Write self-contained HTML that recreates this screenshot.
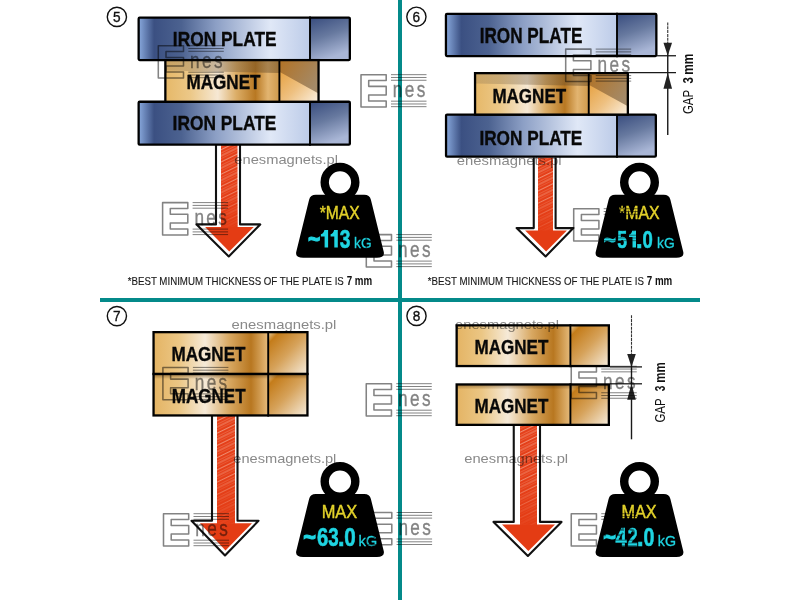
<!DOCTYPE html>
<html><head><meta charset="utf-8"><style>
html,body{margin:0;padding:0;background:#fff;width:800px;height:600px;overflow:hidden}
svg{display:block}
</style></head><body>
<svg width="800" height="600" viewBox="0 0 800 600">
<defs>
<linearGradient id="ironMain" x1="0" y1="0" x2="1" y2="0">
  <stop offset="0" stop-color="#88a8dc"/>
  <stop offset="0.09" stop-color="#3b5082"/>
  <stop offset="0.25" stop-color="#4c6290"/>
  <stop offset="0.45" stop-color="#8c9fc5"/>
  <stop offset="0.77" stop-color="#e0e8f7"/>
  <stop offset="1" stop-color="#bccbe8"/>
</linearGradient>
<linearGradient id="ironSq" x1="0" y1="0" x2="0.35" y2="1">
  <stop offset="0" stop-color="#384c7e"/>
  <stop offset="0.5" stop-color="#67799f"/>
  <stop offset="1" stop-color="#a9b6d6"/>
</linearGradient>
<linearGradient id="magMain" x1="0" y1="0" x2="1" y2="0">
  <stop offset="0" stop-color="#e4b464"/>
  <stop offset="0.22" stop-color="#ebc684"/>
  <stop offset="0.45" stop-color="#f6ead8"/>
  <stop offset="0.66" stop-color="#d8a862"/>
  <stop offset="0.85" stop-color="#b87720"/>
  <stop offset="1" stop-color="#e6bb7c"/>
</linearGradient>
<linearGradient id="magMain2" x1="0" y1="0" x2="1" y2="0">
  <stop offset="0" stop-color="#e6b868"/>
  <stop offset="0.22" stop-color="#ecc888"/>
  <stop offset="0.46" stop-color="#f6e8d4"/>
  <stop offset="0.62" stop-color="#dcae68"/>
  <stop offset="0.79" stop-color="#b87822"/>
  <stop offset="0.9" stop-color="#e2b470"/>
  <stop offset="1" stop-color="#cf9a4c"/>
</linearGradient>
<linearGradient id="bandGrad" x1="0" y1="0" x2="1" y2="0">
  <stop offset="0" stop-color="#7a6850" stop-opacity="0.25"/>
  <stop offset="1" stop-color="#5a4020" stop-opacity="0.45"/>
</linearGradient>
<linearGradient id="magSq" x1="0" y1="0" x2="1" y2="1">
  <stop offset="0" stop-color="#ecd0a0"/>
  <stop offset="0.14" stop-color="#c47c1a"/>
  <stop offset="0.5" stop-color="#d6a25a"/>
  <stop offset="1" stop-color="#f6ecdc"/>
</linearGradient>
<linearGradient id="magSqLow" x1="0" y1="0" x2="1" y2="1">
  <stop offset="0" stop-color="#e4982e"/>
  <stop offset="0.55" stop-color="#eec080"/>
  <stop offset="1" stop-color="#fbf0e0"/>
</linearGradient>
<linearGradient id="magSqHigh" x1="0" y1="0" x2="1" y2="0.6">
  <stop offset="0" stop-color="#b27224"/>
  <stop offset="1" stop-color="#a48a68"/>
</linearGradient>
<linearGradient id="shadowDown" x1="0" y1="0" x2="0" y2="1">
  <stop offset="0" stop-color="#5a3a10" stop-opacity="0.55"/>
  <stop offset="1" stop-color="#5a3a10" stop-opacity="0"/>
</linearGradient>
<pattern id="hatch" width="10" height="11" patternUnits="userSpaceOnUse" patternTransform="rotate(-26)">
  <rect width="10" height="11" fill="#e5401a"/>
  <rect y="0.3" width="10" height="0.7" fill="#f9c8b4" opacity="0.85"/>
  <rect y="3.2" width="10" height="0.5" fill="#f6b09a" opacity="0.6"/>
  <rect y="5.6" width="10" height="0.8" fill="#f9c4ae" opacity="0.75"/>
  <rect y="8.4" width="10" height="0.5" fill="#f4a890" opacity="0.5"/>
</pattern>
<linearGradient id="redFade" x1="0" y1="0" x2="0" y2="1">
  <stop offset="0" stop-color="#e43c14" stop-opacity="0"/>
  <stop offset="0.55" stop-color="#e43c14" stop-opacity="0.15"/>
  <stop offset="1" stop-color="#e43c14" stop-opacity="0.85"/>
</linearGradient>
</defs>
<rect width="800" height="600" fill="#fff"/>
<circle cx="116.9" cy="16.9" r="9.6" fill="none" stroke="#111" stroke-width="1.4"/><text transform="translate(116.9,22.2) scale(0.92,1)" font-family='"Liberation Sans", sans-serif' font-size="14.8" font-weight="normal" fill="#111" text-anchor="middle" stroke="#111" stroke-width="0.35">5</text>
<path d="M216,145 V224.4 H196.6 L228.75,256.5 L260.25,224.4 H240 V145" fill="#fff" stroke="#111" stroke-width="2.1" stroke-linejoin="round"/>
<rect x="221" y="145" width="16.5" height="82.4" fill="url(#hatch)"/>
<rect x="221" y="145" width="16.5" height="82.4" fill="url(#redFade)"/>
<path d="M221,226.9 H205.1 L229.25,251.5 L253.75,226.9 H237.5 V226.9 Z" fill="#e43c14"/>
<rect x="138.65" y="17.65" width="171.35" height="42.45" fill="url(#ironMain)"/>
<rect x="310" y="17.65" width="39.85" height="42.45" fill="url(#ironSq)"/>
<rect x="138.65" y="17.65" width="211.2" height="42.45" fill="none" stroke="#000" stroke-width="2.3" rx="1"/>
<line x1="310" y1="16.5" x2="310" y2="61.25" stroke="#000" stroke-width="1.9"/>
<text transform="translate(172.87,46) scale(0.8521,1)" font-family='"Liberation Sans", sans-serif' font-size="20.36" font-weight="bold" fill="#080808" text-anchor="start" stroke="#080808" stroke-width="0.35">IRON PLATE</text>
<rect x="138.65" y="101.75" width="171.35" height="42.90000000000002" fill="url(#ironMain)"/>
<rect x="310" y="101.75" width="39.85" height="42.90000000000002" fill="url(#ironSq)"/>
<rect x="138.65" y="101.75" width="211.2" height="42.90000000000002" fill="none" stroke="#000" stroke-width="2.3" rx="1"/>
<line x1="310" y1="100.6" x2="310" y2="145.8" stroke="#000" stroke-width="1.9"/>
<text transform="translate(172.57,130.25) scale(0.8521,1)" font-family='"Liberation Sans", sans-serif' font-size="20.36" font-weight="bold" fill="#080808" text-anchor="start" stroke="#080808" stroke-width="0.35">IRON PLATE</text>
<rect x="165.35" y="60.1" width="114.04999999999998" height="41.650000000000006" fill="url(#magMain2)"/>
<polygon points="165.35,60.1 279.4,60.1 279.4,72.95 165.35,70.45" fill="url(#bandGrad)"/>
<rect x="279.4" y="60.1" width="39.15000000000001" height="41.650000000000006" fill="url(#magSqLow)"/>
<polygon points="279.4,60.1 318.55,60.1 318.55,93.4 279.4,71.75" fill="url(#magSqHigh)"/>
<rect x="165.35" y="60.1" width="153.2" height="41.650000000000006" fill="none" stroke="#000" stroke-width="2.3"/>
<line x1="279.4" y1="58.95" x2="279.4" y2="102.9" stroke="#000" stroke-width="1.9"/>
<text transform="translate(186.49,89.4) scale(0.8494,1)" font-family='"Liberation Sans", sans-serif' font-size="20.14" font-weight="bold" fill="#080808" text-anchor="start" stroke="#080808" stroke-width="0.35">MAGNET</text>
<path d="M315.8,194.75 H364.2 Q369.7,194.75 370.9,199.75 L383.59999999999997,251.25 Q385.4,257.75 376.9,257.75 H303.1 Q294.6,257.75 296.40000000000003,251.25 L309.1,199.75 Q310.3,194.75 315.8,194.75 Z" fill="#000"/>
<circle cx="340" cy="182.35" r="15.3" fill="none" stroke="#000" stroke-width="8.4"/>
<text transform="translate(319.69,219.4) scale(0.822,1)" font-family='"Liberation Sans", sans-serif' font-size="19.06" font-weight="normal" fill="#e2d12a" text-anchor="start" stroke="#e2d12a" stroke-width="0.45">*MAX</text>
<text transform="translate(308.06,247.6) scale(0.8348,1)" font-family='"Liberation Sans", sans-serif' font-size="25.14" font-weight="bold" fill="#1fd5e2" text-anchor="start" stroke="#1fd5e2" stroke-width="1.1">~</text>
<path d="M328.1,230 V247.6 H324.6 V236.6 H320.9 V234.3 Q323.8,233.6 324.40000000000003,230 Z" fill="#1fd5e2"/>
<path d="M337.8,230 V247.6 H334.3 V236.6 H330.6 V234.3 Q333.5,233.6 334.1,230 Z" fill="#1fd5e2"/>
<text transform="translate(339.72,247.6) scale(0.7633,1)" font-family='"Liberation Sans", sans-serif' font-size="25.14" font-weight="bold" fill="#1fd5e2" text-anchor="start" stroke="#1fd5e2" stroke-width="0.6">3</text>
<text transform="translate(354.11,247.5) scale(0.8819,1)" font-family='"Liberation Sans", sans-serif' font-size="15.52" font-weight="normal" fill="#1fd5e2" text-anchor="start" stroke="#1fd5e2" stroke-width="0.3">kG</text>
<text transform="translate(127.71,284.6) scale(0.8296,1)" font-family='"Liberation Sans", sans-serif' font-size="11.71" font-weight="normal" fill="#1a1a1a" text-anchor="start" stroke="#1a1a1a" stroke-width="0.15">*BEST MINIMUM THICKNESS OF THE PLATE IS</text>
<text transform="translate(346.66,284.6) scale(0.823,1)" font-family='"Liberation Sans", sans-serif' font-size="11.88" font-weight="bold" fill="#111" text-anchor="start" >7 mm</text>
<circle cx="416.4" cy="16.7" r="9.6" fill="none" stroke="#111" stroke-width="1.4"/><text transform="translate(416.4,22.0) scale(0.92,1)" font-family='"Liberation Sans", sans-serif' font-size="14.8" font-weight="normal" fill="#111" text-anchor="middle" stroke="#111" stroke-width="0.35">6</text>
<path d="M533.75,157.5 V228.1 H516.6 L545.6,256.5 L573.4,228.1 H555.6 V157.5" fill="#fff" stroke="#111" stroke-width="2.1" stroke-linejoin="round"/>
<rect x="538" y="157.5" width="15" height="73.6" fill="url(#hatch)"/>
<rect x="538" y="157.5" width="15" height="73.6" fill="url(#redFade)"/>
<path d="M538,230.6 H525.1 L546.1,251.5 L566.9,230.6 H553 V230.6 Z" fill="#e43c14"/>
<rect x="445.95" y="13.950000000000001" width="171.04999999999998" height="42.10000000000001" fill="url(#ironMain)"/>
<rect x="617" y="13.950000000000001" width="39.35" height="42.10000000000001" fill="url(#ironSq)"/>
<rect x="445.95" y="13.950000000000001" width="210.39999999999998" height="42.10000000000001" fill="none" stroke="#000" stroke-width="2.3" rx="1"/>
<line x1="617" y1="12.8" x2="617" y2="57.2" stroke="#000" stroke-width="1.9"/>
<text transform="translate(479.68,42.5) scale(0.8012,1)" font-family='"Liberation Sans", sans-serif' font-size="21.43" font-weight="bold" fill="#080808" text-anchor="start" stroke="#080808" stroke-width="0.35">IRON PLATE</text>
<rect x="446.04999999999995" y="114.60000000000001" width="170.95000000000002" height="42.05000000000001" fill="url(#ironMain)"/>
<rect x="617" y="114.60000000000001" width="38.85" height="42.05000000000001" fill="url(#ironSq)"/>
<rect x="446.04999999999995" y="114.60000000000001" width="209.8" height="42.05000000000001" fill="none" stroke="#000" stroke-width="2.3" rx="1"/>
<line x1="617" y1="113.45" x2="617" y2="157.8" stroke="#000" stroke-width="1.9"/>
<text transform="translate(479.38,145.25) scale(0.8459,1)" font-family='"Liberation Sans", sans-serif' font-size="20.36" font-weight="bold" fill="#080808" text-anchor="start" stroke="#080808" stroke-width="0.35">IRON PLATE</text>
<rect x="475.04999999999995" y="73.15" width="113.70000000000002" height="41.45" fill="url(#magMain2)"/>
<polygon points="475.04999999999995,73.15 588.75,73.15 588.75,86.0 475.04999999999995,83.5" fill="url(#bandGrad)"/>
<rect x="588.75" y="73.15" width="39.1" height="41.45" fill="url(#magSqLow)"/>
<polygon points="588.75,73.15 627.85,73.15 627.85,106.25 588.75,84.8" fill="url(#magSqHigh)"/>
<rect x="475.04999999999995" y="73.15" width="152.8" height="41.45" fill="none" stroke="#000" stroke-width="2.3"/>
<line x1="588.75" y1="72.0" x2="588.75" y2="115.75" stroke="#000" stroke-width="1.9"/>
<text transform="translate(492.39,102.5) scale(0.8459,1)" font-family='"Liberation Sans", sans-serif' font-size="20.14" font-weight="bold" fill="#080808" text-anchor="start" stroke="#080808" stroke-width="0.35">MAGNET</text>
<line x1="667.75" y1="22.5" x2="667.75" y2="43.75" stroke="#333" stroke-width="1.1" stroke-dasharray="3 0.8"/>
<line x1="667.75" y1="43.75" x2="667.75" y2="135" stroke="#1a1a1a" stroke-width="1.4"/>
<line x1="657" y1="55.75" x2="676" y2="55.75" stroke="#1a1a1a" stroke-width="1.3"/>
<line x1="628" y1="72.7" x2="676" y2="72.7" stroke="#1a1a1a" stroke-width="1.3"/>
<path d="M663.45,42.75 L672.05,42.75 L667.75,55.75 Z" fill="#222"/>
<path d="M663.45,88.7 L672.05,88.7 L667.75,72.7 Z" fill="#222"/>
<g transform="translate(692.6,0) rotate(-90)">
<text transform="translate(-114.07,0) scale(0.7735,1)" font-family='"Liberation Sans", sans-serif' font-size="14.86" font-weight="normal" fill="#111" text-anchor="start" >GAP</text>
<text transform="translate(-83.58,0) scale(0.7615,1)" font-family='"Liberation Sans", sans-serif' font-size="14.86" font-weight="bold" fill="#111" text-anchor="start" >3</text>
<text transform="translate(-74.78,0) scale(0.8373,1)" font-family='"Liberation Sans", sans-serif' font-size="14.26" font-weight="bold" fill="#111" text-anchor="start" >mm</text>
</g>
<path d="M615.3,194.75 H663.7 Q669.2,194.75 670.4000000000001,199.75 L683.1,251.25 Q684.9,257.75 676.4,257.75 H602.6 Q594.1,257.75 595.9,251.25 L608.5999999999999,199.75 Q609.8,194.75 615.3,194.75 Z" fill="#000"/>
<circle cx="639.5" cy="182.35" r="15.3" fill="none" stroke="#000" stroke-width="8.4"/>
<text transform="translate(619.08,219.4) scale(0.8345,1)" font-family='"Liberation Sans", sans-serif' font-size="19.06" font-weight="normal" fill="#e2d12a" text-anchor="start" stroke="#e2d12a" stroke-width="0.45">*MAX</text>
<text transform="translate(603.67,247.6) scale(0.8511,1)" font-family='"Liberation Sans", sans-serif' font-size="24.43" font-weight="bold" fill="#1fd5e2" text-anchor="start" stroke="#1fd5e2" stroke-width="1.1">~</text>
<text transform="translate(617.17,247.6) scale(0.7205,1)" font-family='"Liberation Sans", sans-serif' font-size="24.43" font-weight="bold" fill="#1fd5e2" text-anchor="start" stroke="#1fd5e2" stroke-width="0.6">5</text>
<path d="M636,230.5 V247.6 H632.5 V237.1 H629 V234.8 Q631.7,234.1 632.3,230.5 Z" fill="#1fd5e2"/>
<text transform="translate(636.05,247.6) scale(0.9649,1)" font-family='"Liberation Sans", sans-serif' font-size="24.43" font-weight="bold" fill="#1fd5e2" text-anchor="start" stroke="#1fd5e2" stroke-width="0.6">.</text>
<text transform="translate(642.46,247.6) scale(0.7584,1)" font-family='"Liberation Sans", sans-serif' font-size="24.43" font-weight="bold" fill="#1fd5e2" text-anchor="start" stroke="#1fd5e2" stroke-width="0.6">0</text>
<text transform="translate(657.1,247.5) scale(0.8904,1)" font-family='"Liberation Sans", sans-serif' font-size="15.52" font-weight="normal" fill="#1fd5e2" text-anchor="start" stroke="#1fd5e2" stroke-width="0.3">kG</text>
<text transform="translate(427.81,284.6) scale(0.8296,1)" font-family='"Liberation Sans", sans-serif' font-size="11.71" font-weight="normal" fill="#1a1a1a" text-anchor="start" stroke="#1a1a1a" stroke-width="0.15">*BEST MINIMUM THICKNESS OF THE PLATE IS</text>
<text transform="translate(646.76,284.6) scale(0.823,1)" font-family='"Liberation Sans", sans-serif' font-size="11.88" font-weight="bold" fill="#111" text-anchor="start" >7 mm</text>
<circle cx="116.9" cy="316.1" r="9.6" fill="none" stroke="#111" stroke-width="1.4"/><text transform="translate(116.9,321.40000000000003) scale(0.92,1)" font-family='"Liberation Sans", sans-serif' font-size="14.8" font-weight="normal" fill="#111" text-anchor="middle" stroke="#111" stroke-width="0.35">7</text>
<path d="M212,416 V520.8 H191.5 L225,555.5 L258.5,520.8 H237.5 V416" fill="#fff" stroke="#111" stroke-width="2.1" stroke-linejoin="round"/>
<rect x="217" y="416" width="18" height="107.79999999999995" fill="url(#hatch)"/>
<rect x="217" y="416" width="18" height="107.79999999999995" fill="url(#redFade)"/>
<path d="M217,523.3 H200.0 L225.5,550.5 L252.0,523.3 H235 V523.3 Z" fill="#e43c14"/>
<rect x="153.55" y="332.15" width="114.64999999999998" height="41.84999999999998" fill="url(#magMain)"/>
<rect x="268.2" y="332.15" width="39.250000000000036" height="41.84999999999998" fill="url(#magSq)"/>
<rect x="153.55" y="332.15" width="153.9" height="41.84999999999998" fill="none" stroke="#000" stroke-width="2.3"/>
<line x1="268.2" y1="331" x2="268.2" y2="375.15" stroke="#000" stroke-width="1.9"/>
<text transform="translate(171.54,361.4) scale(0.8488,1)" font-family='"Liberation Sans", sans-serif' font-size="20.14" font-weight="bold" fill="#080808" text-anchor="start" stroke="#080808" stroke-width="0.35">MAGNET</text>
<rect x="153.55" y="374.0" width="114.64999999999998" height="41.45" fill="url(#magMain)"/>
<rect x="268.2" y="374.0" width="39.250000000000036" height="41.45" fill="url(#magSq)"/>
<rect x="153.55" y="374.0" width="153.9" height="5" fill="url(#shadowDown)"/>
<rect x="153.55" y="374.0" width="153.9" height="41.45" fill="none" stroke="#000" stroke-width="2.3"/>
<line x1="268.2" y1="372.85" x2="268.2" y2="416.6" stroke="#000" stroke-width="1.9"/>
<text transform="translate(171.79,403) scale(0.8519,1)" font-family='"Liberation Sans", sans-serif' font-size="20.0" font-weight="bold" fill="#080808" text-anchor="start" stroke="#080808" stroke-width="0.35">MAGNET</text>
<path d="M315.8,493.9 H364.2 Q369.7,493.9 370.9,498.9 L383.59999999999997,550.4 Q385.4,556.9 376.9,556.9 H303.1 Q294.6,556.9 296.40000000000003,550.4 L309.1,498.9 Q310.3,493.9 315.8,493.9 Z" fill="#000"/>
<circle cx="340" cy="481.5" r="15.3" fill="none" stroke="#000" stroke-width="8.4"/>
<text transform="translate(321.69,518.1) scale(0.8647,1)" font-family='"Liberation Sans", sans-serif' font-size="18.99" font-weight="normal" fill="#e2d12a" text-anchor="start" stroke="#e2d12a" stroke-width="0.45">MAX</text>
<text transform="translate(303.13,546.4) scale(0.8566,1)" font-family='"Liberation Sans", sans-serif' font-size="25.43" font-weight="bold" fill="#1fd5e2" text-anchor="start" stroke="#1fd5e2" stroke-width="1.1">~</text>
<text transform="translate(316.99,546.4) scale(0.7946,1)" font-family='"Liberation Sans", sans-serif' font-size="25.43" font-weight="bold" fill="#1fd5e2" text-anchor="start" stroke="#1fd5e2" stroke-width="0.6">6</text>
<text transform="translate(328.23,546.4) scale(0.7388,1)" font-family='"Liberation Sans", sans-serif' font-size="25.43" font-weight="bold" fill="#1fd5e2" text-anchor="start" stroke="#1fd5e2" stroke-width="0.6">3</text>
<text transform="translate(338.05,546.4) scale(0.927,1)" font-family='"Liberation Sans", sans-serif' font-size="25.43" font-weight="bold" fill="#1fd5e2" text-anchor="start" stroke="#1fd5e2" stroke-width="0.6">.</text>
<text transform="translate(344.37,546.4) scale(0.8114,1)" font-family='"Liberation Sans", sans-serif' font-size="25.43" font-weight="bold" fill="#1fd5e2" text-anchor="start" stroke="#1fd5e2" stroke-width="0.6">0</text>
<text transform="translate(358.44,546.25) scale(1.0062,1)" font-family='"Liberation Sans", sans-serif' font-size="14.69" font-weight="normal" fill="#1fd5e2" text-anchor="start" stroke="#1fd5e2" stroke-width="0.3">kG</text>
<circle cx="416.5" cy="315.9" r="9.6" fill="none" stroke="#111" stroke-width="1.4"/><text transform="translate(416.5,321.2) scale(0.92,1)" font-family='"Liberation Sans", sans-serif' font-size="14.8" font-weight="normal" fill="#111" text-anchor="middle" stroke="#111" stroke-width="0.35">8</text>
<path d="M513.75,425.6 V521.9 H493.5 L527.9,555.9 L561.5,521.9 H540 V425.6" fill="#fff" stroke="#111" stroke-width="2.1" stroke-linejoin="round"/>
<rect x="520" y="425.6" width="17" height="99.29999999999995" fill="url(#hatch)"/>
<rect x="520" y="425.6" width="17" height="99.29999999999995" fill="url(#redFade)"/>
<path d="M520,524.4 H502.0 L528.4,550.9 L555.0,524.4 H537 V524.4 Z" fill="#e43c14"/>
<rect x="456.65" y="325.34999999999997" width="113.74999999999997" height="40.7" fill="url(#magMain)"/>
<rect x="570.4" y="325.34999999999997" width="38.450000000000024" height="40.7" fill="url(#magSq)"/>
<rect x="456.65" y="325.34999999999997" width="152.2" height="40.7" fill="none" stroke="#000" stroke-width="2.3"/>
<line x1="570.4" y1="324.2" x2="570.4" y2="367.2" stroke="#000" stroke-width="1.9"/>
<text transform="translate(474.59,353.9) scale(0.8519,1)" font-family='"Liberation Sans", sans-serif' font-size="20.0" font-weight="bold" fill="#080808" text-anchor="start" stroke="#080808" stroke-width="0.35">MAGNET</text>
<rect x="456.65" y="384.45" width="113.74999999999997" height="40.39999999999999" fill="url(#magMain)"/>
<rect x="570.4" y="384.45" width="38.450000000000024" height="40.39999999999999" fill="url(#magSq)"/>
<rect x="456.65" y="384.45" width="152.2" height="5" fill="url(#shadowDown)"/>
<rect x="456.65" y="384.45" width="152.2" height="40.39999999999999" fill="none" stroke="#000" stroke-width="2.3"/>
<line x1="570.4" y1="383.3" x2="570.4" y2="426" stroke="#000" stroke-width="1.9"/>
<text transform="translate(474.59,413.4) scale(0.8283,1)" font-family='"Liberation Sans", sans-serif' font-size="20.57" font-weight="bold" fill="#080808" text-anchor="start" stroke="#080808" stroke-width="0.35">MAGNET</text>
<line x1="631.5" y1="315.25" x2="631.5" y2="354.9" stroke="#333" stroke-width="1.1" stroke-dasharray="3 0.8"/>
<line x1="631.5" y1="354.9" x2="631.5" y2="439.3" stroke="#1a1a1a" stroke-width="1.4"/>
<line x1="610" y1="366.9" x2="642" y2="366.9" stroke="#1a1a1a" stroke-width="1.3"/>
<line x1="610" y1="383.8" x2="642" y2="383.8" stroke="#1a1a1a" stroke-width="1.3"/>
<path d="M627.2,353.9 L635.8,353.9 L631.5,366.9 Z" fill="#222"/>
<path d="M627.2,399.8 L635.8,399.8 L631.5,383.8 Z" fill="#222"/>
<g transform="translate(664.65,0) rotate(-90)">
<text transform="translate(-422.57,0) scale(0.7735,1)" font-family='"Liberation Sans", sans-serif' font-size="14.86" font-weight="normal" fill="#111" text-anchor="start" >GAP</text>
<text transform="translate(-391.25,0) scale(0.6799,1)" font-family='"Liberation Sans", sans-serif' font-size="14.86" font-weight="bold" fill="#111" text-anchor="start" >3</text>
<text transform="translate(-382.75,0) scale(0.8076,1)" font-family='"Liberation Sans", sans-serif' font-size="14.26" font-weight="bold" fill="#111" text-anchor="start" >mm</text>
</g>
<path d="M615.3,493.9 H663.7 Q669.2,493.9 670.4000000000001,498.9 L683.1,550.4 Q684.9,556.9 676.4,556.9 H602.6 Q594.1,556.9 595.9,550.4 L608.5999999999999,498.9 Q609.8,493.9 615.3,493.9 Z" fill="#000"/>
<circle cx="639.5" cy="481.5" r="15.3" fill="none" stroke="#000" stroke-width="8.4"/>
<text transform="translate(621.45,518.1) scale(0.8545,1)" font-family='"Liberation Sans", sans-serif' font-size="18.99" font-weight="normal" fill="#e2d12a" text-anchor="start" stroke="#e2d12a" stroke-width="0.45">MAX</text>
<text transform="translate(603.13,546.4) scale(0.8566,1)" font-family='"Liberation Sans", sans-serif' font-size="25.43" font-weight="bold" fill="#1fd5e2" text-anchor="start" stroke="#1fd5e2" stroke-width="1.1">~</text>
<text transform="translate(615.4,546.4) scale(0.7939,1)" font-family='"Liberation Sans", sans-serif' font-size="25.43" font-weight="bold" fill="#1fd5e2" text-anchor="start" stroke="#1fd5e2" stroke-width="0.6">4</text>
<text transform="translate(627.56,546.4) scale(0.721,1)" font-family='"Liberation Sans", sans-serif' font-size="25.43" font-weight="bold" fill="#1fd5e2" text-anchor="start" stroke="#1fd5e2" stroke-width="0.6">2</text>
<text transform="translate(637.05,546.4) scale(0.927,1)" font-family='"Liberation Sans", sans-serif' font-size="25.43" font-weight="bold" fill="#1fd5e2" text-anchor="start" stroke="#1fd5e2" stroke-width="0.6">.</text>
<text transform="translate(643.42,546.4) scale(0.77,1)" font-family='"Liberation Sans", sans-serif' font-size="25.43" font-weight="bold" fill="#1fd5e2" text-anchor="start" stroke="#1fd5e2" stroke-width="0.6">0</text>
<text transform="translate(657.82,546.25) scale(0.9704,1)" font-family='"Liberation Sans", sans-serif' font-size="14.69" font-weight="normal" fill="#1fd5e2" text-anchor="start" stroke="#1fd5e2" stroke-width="0.3">kG</text>
<rect x="398" y="0" width="4" height="600" fill="#048a8a"/>
<rect x="100" y="298" width="600" height="4" fill="#048a8a"/>
<g style="mix-blend-mode:multiply" fill="none" stroke="#838383" stroke-width="1.55">
<path d="M158.3,45.7 H183.5 V51.5 H166.0 V57.400000000000006 H183.5 V66.0 H166.0 V72.0 H183.5 V78.0 H158.3 Z" stroke-linejoin="round"/>
<line x1="188.3" y1="45.7" x2="223.8" y2="45.7" stroke-width="1.0"/>
<line x1="188.3" y1="48.5" x2="223.8" y2="48.5" stroke-width="1.0"/>
<line x1="188.3" y1="51.300000000000004" x2="223.8" y2="51.300000000000004" stroke-width="1.0"/>
<line x1="188.3" y1="72.2" x2="223.8" y2="72.2" stroke-width="1.0"/>
<line x1="188.3" y1="75.0" x2="223.8" y2="75.0" stroke-width="1.0"/>
<line x1="188.3" y1="77.7" x2="223.8" y2="77.7" stroke-width="1.0"/>
</g>
<g style="mix-blend-mode:multiply"><text transform="translate(190.10000000000002,68.2) scale(0.8,1)" font-family='"Liberation Sans", sans-serif' font-size="21.5" font-weight="normal" fill="#838383" text-anchor="start" letter-spacing="3" stroke="#838383" stroke-width="0.35">nes</text></g>
<g style="mix-blend-mode:multiply" fill="none" stroke="#838383" stroke-width="1.55">
<path d="M361,74.67 H386.2 V80.47 H368.7 V86.37 H386.2 V94.97 H368.7 V100.97 H386.2 V106.97 H361 Z" stroke-linejoin="round"/>
<line x1="391" y1="74.67" x2="426.5" y2="74.67" stroke-width="1.0"/>
<line x1="391" y1="77.47" x2="426.5" y2="77.47" stroke-width="1.0"/>
<line x1="391" y1="80.27" x2="426.5" y2="80.27" stroke-width="1.0"/>
<line x1="391" y1="101.17" x2="426.5" y2="101.17" stroke-width="1.0"/>
<line x1="391" y1="103.97" x2="426.5" y2="103.97" stroke-width="1.0"/>
<line x1="391" y1="106.67" x2="426.5" y2="106.67" stroke-width="1.0"/>
</g>
<g style="mix-blend-mode:multiply"><text transform="translate(392.8,97.17) scale(0.8,1)" font-family='"Liberation Sans", sans-serif' font-size="21.5" font-weight="normal" fill="#838383" text-anchor="start" letter-spacing="3" stroke="#838383" stroke-width="0.35">nes</text></g>
<g style="mix-blend-mode:multiply" fill="none" stroke="#838383" stroke-width="1.55">
<path d="M162.6,202.6 H187.79999999999998 V208.4 H170.29999999999998 V214.29999999999998 H187.79999999999998 V222.9 H170.29999999999998 V228.9 H187.79999999999998 V234.89999999999998 H162.6 Z" stroke-linejoin="round"/>
<line x1="192.6" y1="202.6" x2="228.1" y2="202.6" stroke-width="1.0"/>
<line x1="192.6" y1="205.4" x2="228.1" y2="205.4" stroke-width="1.0"/>
<line x1="192.6" y1="208.2" x2="228.1" y2="208.2" stroke-width="1.0"/>
<line x1="192.6" y1="229.1" x2="228.1" y2="229.1" stroke-width="1.0"/>
<line x1="192.6" y1="231.9" x2="228.1" y2="231.9" stroke-width="1.0"/>
<line x1="192.6" y1="234.6" x2="228.1" y2="234.6" stroke-width="1.0"/>
</g>
<g style="mix-blend-mode:multiply"><text transform="translate(194.4,225.1) scale(0.8,1)" font-family='"Liberation Sans", sans-serif' font-size="21.5" font-weight="normal" fill="#838383" text-anchor="start" letter-spacing="3" stroke="#838383" stroke-width="0.35">nes</text></g>
<g style="mix-blend-mode:multiply" fill="none" stroke="#838383" stroke-width="1.55">
<path d="M366.3,234.6 H391.5 V240.4 H374.0 V246.29999999999998 H391.5 V254.9 H374.0 V260.9 H391.5 V266.9 H366.3 Z" stroke-linejoin="round"/>
<line x1="396.3" y1="234.6" x2="431.8" y2="234.6" stroke-width="1.0"/>
<line x1="396.3" y1="237.4" x2="431.8" y2="237.4" stroke-width="1.0"/>
<line x1="396.3" y1="240.2" x2="431.8" y2="240.2" stroke-width="1.0"/>
<line x1="396.3" y1="261.1" x2="431.8" y2="261.1" stroke-width="1.0"/>
<line x1="396.3" y1="263.9" x2="431.8" y2="263.9" stroke-width="1.0"/>
<line x1="396.3" y1="266.6" x2="431.8" y2="266.6" stroke-width="1.0"/>
</g>
<g style="mix-blend-mode:multiply"><text transform="translate(398.1,257.1) scale(0.8,1)" font-family='"Liberation Sans", sans-serif' font-size="21.5" font-weight="normal" fill="#838383" text-anchor="start" letter-spacing="3" stroke="#838383" stroke-width="0.35">nes</text></g>
<g style="mix-blend-mode:multiply" fill="none" stroke="#838383" stroke-width="1.55">
<path d="M565.7,49.1 H590.9000000000001 V54.9 H573.4000000000001 V60.8 H590.9000000000001 V69.4 H573.4000000000001 V75.4 H590.9000000000001 V81.4 H565.7 Z" stroke-linejoin="round"/>
<line x1="595.7" y1="49.1" x2="631.2" y2="49.1" stroke-width="1.0"/>
<line x1="595.7" y1="51.9" x2="631.2" y2="51.9" stroke-width="1.0"/>
<line x1="595.7" y1="54.7" x2="631.2" y2="54.7" stroke-width="1.0"/>
<line x1="595.7" y1="75.6" x2="631.2" y2="75.6" stroke-width="1.0"/>
<line x1="595.7" y1="78.4" x2="631.2" y2="78.4" stroke-width="1.0"/>
<line x1="595.7" y1="81.1" x2="631.2" y2="81.1" stroke-width="1.0"/>
</g>
<g style="mix-blend-mode:multiply"><text transform="translate(597.5,71.6) scale(0.8,1)" font-family='"Liberation Sans", sans-serif' font-size="21.5" font-weight="normal" fill="#838383" text-anchor="start" letter-spacing="3" stroke="#838383" stroke-width="0.35">nes</text></g>
<g style="mix-blend-mode:multiply" fill="none" stroke="#838383" stroke-width="1.55">
<path d="M573.7,208.7 H598.9000000000001 V214.5 H581.4000000000001 V220.39999999999998 H598.9000000000001 V229.0 H581.4000000000001 V235.0 H598.9000000000001 V241.0 H573.7 Z" stroke-linejoin="round"/>
<line x1="603.7" y1="208.7" x2="639.2" y2="208.7" stroke-width="1.0"/>
<line x1="603.7" y1="211.5" x2="639.2" y2="211.5" stroke-width="1.0"/>
<line x1="603.7" y1="214.29999999999998" x2="639.2" y2="214.29999999999998" stroke-width="1.0"/>
<line x1="603.7" y1="235.2" x2="639.2" y2="235.2" stroke-width="1.0"/>
<line x1="603.7" y1="238.0" x2="639.2" y2="238.0" stroke-width="1.0"/>
<line x1="603.7" y1="240.7" x2="639.2" y2="240.7" stroke-width="1.0"/>
</g>
<g style="mix-blend-mode:multiply"><text transform="translate(605.5,231.2) scale(0.8,1)" font-family='"Liberation Sans", sans-serif' font-size="21.5" font-weight="normal" fill="#838383" text-anchor="start" letter-spacing="3" stroke="#838383" stroke-width="0.35">nes</text></g>
<g style="mix-blend-mode:multiply" fill="none" stroke="#838383" stroke-width="1.55">
<path d="M162.9,367.4 H188.1 V373.2 H170.6 V379.09999999999997 H188.1 V387.7 H170.6 V393.7 H188.1 V399.7 H162.9 Z" stroke-linejoin="round"/>
<line x1="192.9" y1="367.4" x2="228.4" y2="367.4" stroke-width="1.0"/>
<line x1="192.9" y1="370.2" x2="228.4" y2="370.2" stroke-width="1.0"/>
<line x1="192.9" y1="373.0" x2="228.4" y2="373.0" stroke-width="1.0"/>
<line x1="192.9" y1="393.9" x2="228.4" y2="393.9" stroke-width="1.0"/>
<line x1="192.9" y1="396.7" x2="228.4" y2="396.7" stroke-width="1.0"/>
<line x1="192.9" y1="399.4" x2="228.4" y2="399.4" stroke-width="1.0"/>
</g>
<g style="mix-blend-mode:multiply"><text transform="translate(194.70000000000002,389.9) scale(0.8,1)" font-family='"Liberation Sans", sans-serif' font-size="21.5" font-weight="normal" fill="#838383" text-anchor="start" letter-spacing="3" stroke="#838383" stroke-width="0.35">nes</text></g>
<g style="mix-blend-mode:multiply" fill="none" stroke="#838383" stroke-width="1.55">
<path d="M366.25,383.7 H391.45 V389.5 H373.95 V395.4 H391.45 V404.0 H373.95 V410.0 H391.45 V416.0 H366.25 Z" stroke-linejoin="round"/>
<line x1="396.25" y1="383.7" x2="431.75" y2="383.7" stroke-width="1.0"/>
<line x1="396.25" y1="386.5" x2="431.75" y2="386.5" stroke-width="1.0"/>
<line x1="396.25" y1="389.3" x2="431.75" y2="389.3" stroke-width="1.0"/>
<line x1="396.25" y1="410.2" x2="431.75" y2="410.2" stroke-width="1.0"/>
<line x1="396.25" y1="413.0" x2="431.75" y2="413.0" stroke-width="1.0"/>
<line x1="396.25" y1="415.7" x2="431.75" y2="415.7" stroke-width="1.0"/>
</g>
<g style="mix-blend-mode:multiply"><text transform="translate(398.05,406.2) scale(0.8,1)" font-family='"Liberation Sans", sans-serif' font-size="21.5" font-weight="normal" fill="#838383" text-anchor="start" letter-spacing="3" stroke="#838383" stroke-width="0.35">nes</text></g>
<g style="mix-blend-mode:multiply" fill="none" stroke="#838383" stroke-width="1.55">
<path d="M163.5,513.7 H188.7 V519.5 H171.2 V525.4000000000001 H188.7 V534.0 H171.2 V540.0 H188.7 V546.0 H163.5 Z" stroke-linejoin="round"/>
<line x1="193.5" y1="513.7" x2="229.0" y2="513.7" stroke-width="1.0"/>
<line x1="193.5" y1="516.5" x2="229.0" y2="516.5" stroke-width="1.0"/>
<line x1="193.5" y1="519.3000000000001" x2="229.0" y2="519.3000000000001" stroke-width="1.0"/>
<line x1="193.5" y1="540.2" x2="229.0" y2="540.2" stroke-width="1.0"/>
<line x1="193.5" y1="543.0" x2="229.0" y2="543.0" stroke-width="1.0"/>
<line x1="193.5" y1="545.7" x2="229.0" y2="545.7" stroke-width="1.0"/>
</g>
<g style="mix-blend-mode:multiply"><text transform="translate(195.3,536.2) scale(0.8,1)" font-family='"Liberation Sans", sans-serif' font-size="21.5" font-weight="normal" fill="#838383" text-anchor="start" letter-spacing="3" stroke="#838383" stroke-width="0.35">nes</text></g>
<g style="mix-blend-mode:multiply" fill="none" stroke="#838383" stroke-width="1.55">
<path d="M366.6,512.5 H391.8 V518.3 H374.3 V524.2 H391.8 V532.8 H374.3 V538.8 H391.8 V544.8 H366.6 Z" stroke-linejoin="round"/>
<line x1="396.6" y1="512.5" x2="432.1" y2="512.5" stroke-width="1.0"/>
<line x1="396.6" y1="515.3" x2="432.1" y2="515.3" stroke-width="1.0"/>
<line x1="396.6" y1="518.1" x2="432.1" y2="518.1" stroke-width="1.0"/>
<line x1="396.6" y1="539.0" x2="432.1" y2="539.0" stroke-width="1.0"/>
<line x1="396.6" y1="541.8" x2="432.1" y2="541.8" stroke-width="1.0"/>
<line x1="396.6" y1="544.5" x2="432.1" y2="544.5" stroke-width="1.0"/>
</g>
<g style="mix-blend-mode:multiply"><text transform="translate(398.40000000000003,535.0) scale(0.8,1)" font-family='"Liberation Sans", sans-serif' font-size="21.5" font-weight="normal" fill="#838383" text-anchor="start" letter-spacing="3" stroke="#838383" stroke-width="0.35">nes</text></g>
<g style="mix-blend-mode:multiply" fill="none" stroke="#838383" stroke-width="1.55">
<path d="M571.25,366.25 H596.45 V372.05 H578.95 V377.95 H596.45 V386.55 H578.95 V392.55 H596.45 V398.55 H571.25 Z" stroke-linejoin="round"/>
<line x1="601.25" y1="366.25" x2="636.75" y2="366.25" stroke-width="1.0"/>
<line x1="601.25" y1="369.05" x2="636.75" y2="369.05" stroke-width="1.0"/>
<line x1="601.25" y1="371.85" x2="636.75" y2="371.85" stroke-width="1.0"/>
<line x1="601.25" y1="392.75" x2="636.75" y2="392.75" stroke-width="1.0"/>
<line x1="601.25" y1="395.55" x2="636.75" y2="395.55" stroke-width="1.0"/>
<line x1="601.25" y1="398.25" x2="636.75" y2="398.25" stroke-width="1.0"/>
</g>
<g style="mix-blend-mode:multiply"><text transform="translate(603.05,388.75) scale(0.8,1)" font-family='"Liberation Sans", sans-serif' font-size="21.5" font-weight="normal" fill="#838383" text-anchor="start" letter-spacing="3" stroke="#838383" stroke-width="0.35">nes</text></g>
<g style="mix-blend-mode:multiply" fill="none" stroke="#838383" stroke-width="1.55">
<path d="M571.25,513.7 H596.45 V519.5 H578.95 V525.4000000000001 H596.45 V534.0 H578.95 V540.0 H596.45 V546.0 H571.25 Z" stroke-linejoin="round"/>
<line x1="601.25" y1="513.7" x2="636.75" y2="513.7" stroke-width="1.0"/>
<line x1="601.25" y1="516.5" x2="636.75" y2="516.5" stroke-width="1.0"/>
<line x1="601.25" y1="519.3000000000001" x2="636.75" y2="519.3000000000001" stroke-width="1.0"/>
<line x1="601.25" y1="540.2" x2="636.75" y2="540.2" stroke-width="1.0"/>
<line x1="601.25" y1="543.0" x2="636.75" y2="543.0" stroke-width="1.0"/>
<line x1="601.25" y1="545.7" x2="636.75" y2="545.7" stroke-width="1.0"/>
</g>
<g style="mix-blend-mode:multiply"><text transform="translate(603.05,536.2) scale(0.8,1)" font-family='"Liberation Sans", sans-serif' font-size="21.5" font-weight="normal" fill="#838383" text-anchor="start" letter-spacing="3" stroke="#838383" stroke-width="0.35">nes</text></g>
<g style="mix-blend-mode:multiply"><text transform="translate(234.34,163.6) scale(1.1319,1)" font-family='"Liberation Sans", sans-serif' font-size="12.97" font-weight="normal" fill="#898989" text-anchor="start" >enesmagnets.pl</text></g>
<g style="mix-blend-mode:multiply"><text transform="translate(456.83,164.5) scale(1.1458,1)" font-family='"Liberation Sans", sans-serif' font-size="12.97" font-weight="normal" fill="#898989" text-anchor="start" >enesmagnets.pl</text></g>
<g style="mix-blend-mode:multiply"><text transform="translate(231.58,328.9) scale(1.1458,1)" font-family='"Liberation Sans", sans-serif' font-size="12.97" font-weight="normal" fill="#898989" text-anchor="start" >enesmagnets.pl</text></g>
<g style="mix-blend-mode:multiply"><text transform="translate(233.34,462.5) scale(1.1264,1)" font-family='"Liberation Sans", sans-serif' font-size="12.97" font-weight="normal" fill="#898989" text-anchor="start" >enesmagnets.pl</text></g>
<g style="mix-blend-mode:multiply"><text transform="translate(455.09,328.9) scale(1.1347,1)" font-family='"Liberation Sans", sans-serif' font-size="12.97" font-weight="normal" fill="#898989" text-anchor="start" >enesmagnets.pl</text></g>
<g style="mix-blend-mode:multiply"><text transform="translate(464.24,462.5) scale(1.1358,1)" font-family='"Liberation Sans", sans-serif' font-size="12.97" font-weight="normal" fill="#898989" text-anchor="start" >enesmagnets.pl</text></g>
</svg>
</body></html>
